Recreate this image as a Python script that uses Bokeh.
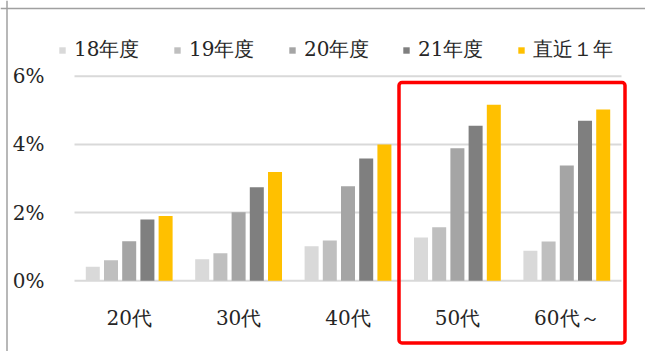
from bokeh.plotting import figure
from bokeh.models import (Range1d, ColumnDataSource, Legend, LegendItem,
                          NumeralTickFormatter, FixedTicker, BoxAnnotation, Span)
from bokeh.transform import dodge
from bokeh.embed import file_html
from bokeh.resources import INLINE

categories = ["20代", "30代", "40代", "50代", "60代～"]
series = ["18年度", "19年度", "20年度", "21年度", "直近１年"]
fy18 = [0.0041, 0.0063, 0.0101, 0.0127, 0.0088]
fy19 = [0.0060, 0.0081, 0.0118, 0.0157, 0.0115]
fy20 = [0.0116, 0.0201, 0.0277, 0.0389, 0.0338]
fy21 = [0.0180, 0.0274, 0.0359, 0.0455, 0.0469]
recent = [0.0190, 0.0319, 0.0400, 0.0516, 0.0502]
colors = ["#D9D9D9", "#BFBFBF", "#A5A5A5", "#7F7F7F", "#FFC000"]
y_ticks = [0, 0.02, 0.04, 0.06]

FONT = "DejaVu Serif"
TEXT_COLOR = "#262626"

idx = list(range(len(categories)))
source = ColumnDataSource(data=dict(x=idx, s0=fy18, s1=fy19, s2=fy20, s3=fy21, s4=recent))

# frame spans the whole canvas; data area occupies px 74..621 horizontally
px_per_cat = 547 / len(categories)
x_start = -0.5 - 74 / px_per_cat
x_end = len(categories) - 0.5 + 24 / px_per_cat
px_per_unit = 3410.0
y_start = -(351 - 280.3) / px_per_unit
y_end = 280.3 / px_per_unit

p = figure(width=645, height=351, x_range=Range1d(x_start, x_end),
           y_range=Range1d(y_start, y_end), output_backend="svg", toolbar_location=None,
           min_border=0)
p.outline_line_color = None
p.background_fill_color = "white"
p.border_fill_color = "white"
p.xgrid.visible = False
p.ygrid.visible = False

# gridlines over the category area only
n = len(categories)
p.segment(x0=[-0.5] * len(y_ticks), x1=[n - 0.5] * len(y_ticks), y0=y_ticks, y1=y_ticks,
          line_color="#D9D9D9", line_width=2)

step = 0.1664
bar_w = 0.128
renderers = []
for i, key in enumerate(["s0", "s1", "s2", "s3", "s4"]):
    r = p.vbar(x=dodge("x", (i - 2) * step), top=key, bottom=0,
               width=bar_w, source=source, fill_color=colors[i], line_color=None)
    renderers.append(r)

# axes (fixed inside the frame)
p.yaxis.ticker = FixedTicker(ticks=y_ticks)
p.yaxis.formatter = NumeralTickFormatter(format="0%")
p.yaxis.fixed_location = -0.5
p.xaxis.ticker = FixedTicker(ticks=idx)
p.xaxis.major_label_overrides = {i: c for i, c in zip(idx, categories)}
p.xaxis.fixed_location = 0
for ax in (p.xaxis[0], p.yaxis[0]):
    ax.axis_line_color = None
    ax.major_tick_line_color = None
    ax.minor_tick_line_color = None
    ax.major_label_text_font = FONT
    ax.major_label_text_font_size = "20px"
    ax.major_label_text_color = TEXT_COLOR
p.yaxis.major_label_standoff = 24
p.xaxis.major_label_standoff = 19

# legend: one per series so positions match
leg_x = [58, 173, 288, 402, 517]
for i, r in enumerate(renderers):
    lg = Legend(items=[LegendItem(label=series[i], renderers=[r])], location=(leg_x[i], 288),
                orientation="horizontal", padding=0, margin=0, spacing=0,
                glyph_width=8, glyph_height=8, label_standoff=8,
                label_text_font=FONT, label_text_font_size="20px", label_text_color=TEXT_COLOR,
                border_line_color=None, background_fill_alpha=0)
    p.add_layout(lg, "center")

# outer chart border (left and top edges of the chart area)
p.add_layout(Span(location=6.5, location_units="canvas", dimension="height",
                  line_color="#A0A0A0", line_width=1.5, level="overlay"))
p.add_layout(Span(location=8, location_units="canvas", dimension="width",
                  line_color="#A0A0A0", line_width=1.5, level="overlay"))
# red highlight box
p.add_layout(BoxAnnotation(left=398.5, right=624.5, top=82, bottom=342.5,
                           left_units="canvas", right_units="canvas",
                           top_units="canvas", bottom_units="canvas",
                           fill_alpha=0, line_color="#FF0000", line_alpha=1.0, line_width=3.5,
                           border_radius=3, level="overlay"))

open("out.html", "w").write(file_html(p, INLINE))
